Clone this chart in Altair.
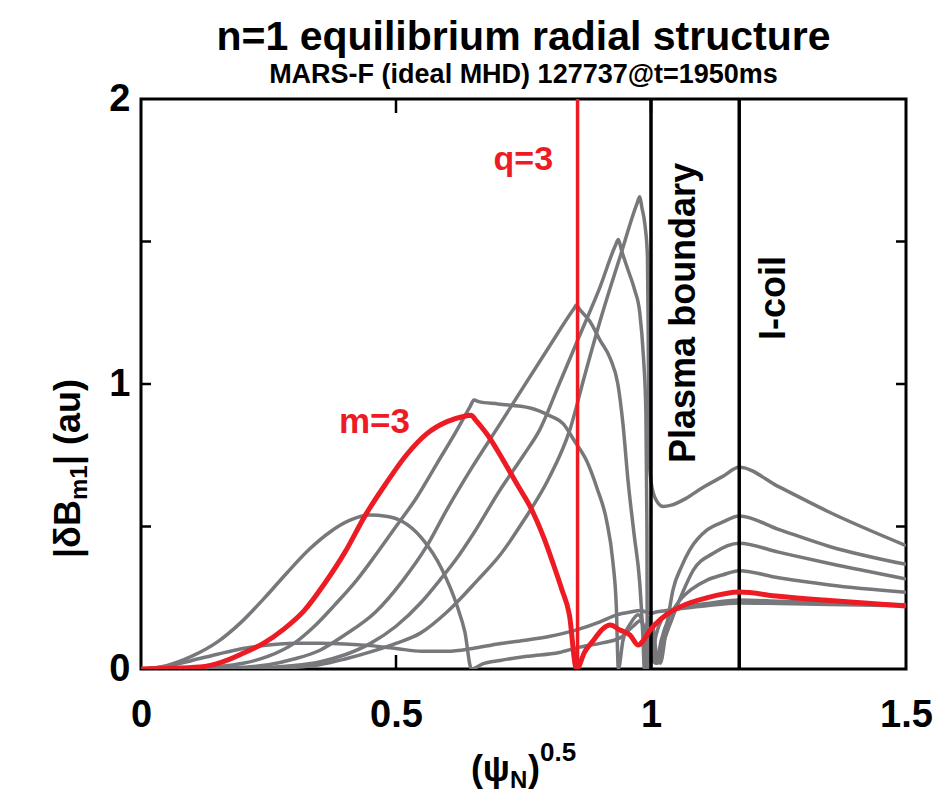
import altair as alt
import pandas as pd

FONT = "Liberation Sans, Arial, Helvetica, sans-serif"
GRAY = "#77787b"
RED = "#ed1c24"

W, H = 765, 570

# |dB_m1| (au) versus sqrt(psi_N) for each poloidal harmonic of the n=1 response
m1_x = [0, 0.05, 0.1, 0.15, 0.2, 0.25, 0.3, 0.35, 0.4, 0.45, 0.5, 0.55, 0.6, 0.65, 0.7, 0.75, 0.8,
        0.856, 0.9, 0.933, 0.96, 0.98, 0.99, 1.0, 1.01, 1.03, 1.06, 1.1, 1.173, 1.25, 1.35, 1.5]
m1_y = [0, 0.01, 0.03, 0.052, 0.072, 0.084, 0.09, 0.09, 0.088, 0.082, 0.072, 0.062, 0.062, 0.072,
        0.088, 0.1, 0.114, 0.138, 0.165, 0.19, 0.2, 0.205, 0.2, 0.195, 0.2, 0.205, 0.212, 0.22,
        0.232, 0.23, 0.226, 0.222]

m2_x = [0, 0.05, 0.1, 0.15, 0.194, 0.24, 0.286, 0.33, 0.37, 0.41, 0.449, 0.48, 0.51, 0.55, 0.59,
        0.62, 0.635, 0.648, 0.67, 0.704, 0.76, 0.82, 0.856, 0.9, 0.94, 0.965, 0.98, 0.99, 1.0,
        1.01, 1.02, 1.031, 1.06, 1.11, 1.173, 1.25, 1.35, 1.5]
m2_y = [0, 0.012, 0.045, 0.095, 0.16, 0.245, 0.337, 0.42, 0.48, 0.522, 0.54, 0.536, 0.52, 0.46,
        0.35, 0.22, 0.13, 0.0, 0.018, 0.03, 0.045, 0.058, 0.075, 0.09, 0.11, 0.15, 0.17, 0.1,
        0.03, 0.12, 0.17, 0.196, 0.215, 0.23, 0.242, 0.238, 0.232, 0.225]

m3_x = [0, 0.05, 0.116, 0.16, 0.2, 0.24, 0.28, 0.32, 0.36, 0.4, 0.44, 0.48, 0.52, 0.56, 0.6,
        0.63, 0.648, 0.655, 0.68, 0.71, 0.74, 0.763, 0.79, 0.808, 0.825, 0.84, 0.854, 0.87,
        0.887, 0.905, 0.92, 0.939, 0.959, 0.975, 0.985, 0.992, 1.0, 1.01, 1.03, 1.057, 1.11,
        1.173, 1.25, 1.35, 1.5]
m3_y = [0, 0.002, 0.007, 0.025, 0.055, 0.09, 0.14, 0.205, 0.3, 0.41, 0.54, 0.65, 0.75, 0.825,
        0.868, 0.885, 0.89, 0.876, 0.82, 0.733, 0.64, 0.57, 0.46, 0.37, 0.28, 0.19, 0.0, 0.06,
        0.10, 0.14, 0.154, 0.137, 0.119, 0.084, 0.1, 0.119, 0.14, 0.16, 0.19, 0.218, 0.25, 0.27,
        0.255, 0.24, 0.221]

m4_x = [0, 0.1, 0.15, 0.2, 0.25, 0.3, 0.34, 0.38, 0.423, 0.46, 0.5, 0.54, 0.58, 0.62, 0.645,
        0.653, 0.662, 0.7, 0.763, 0.8, 0.828, 0.85, 0.874, 0.895, 0.913, 0.925, 0.932, 0.936,
        0.945, 0.96, 0.975, 0.99, 1.0, 1.01, 1.02, 1.035, 1.057, 1.08, 1.11, 1.14, 1.173, 1.25,
        1.35, 1.5]
m4_y = [0, 0.002, 0.008, 0.02, 0.045, 0.09, 0.15, 0.225, 0.312, 0.4, 0.5, 0.6, 0.72, 0.84, 0.92,
        0.944, 0.938, 0.93, 0.916, 0.89, 0.86, 0.8, 0.73, 0.63, 0.52, 0.38, 0.22, 0.0, 0.1, 0.16,
        0.19, 0.12, 0.04, 0.02, 0.1, 0.18, 0.242, 0.28, 0.312, 0.33, 0.345, 0.32, 0.295, 0.269]

m5_x = [0, 0.15, 0.2, 0.25, 0.3, 0.35, 0.4, 0.46, 0.514, 0.56, 0.6, 0.65, 0.704, 0.75, 0.8, 0.848,
        0.854, 0.86, 0.88, 0.9, 0.92, 0.935, 0.945, 0.955, 0.967, 0.978, 0.984, 0.987, 0.99,
        0.996, 1.003, 1.012, 1.022, 1.04, 1.06, 1.083, 1.122, 1.173, 1.25, 1.35, 1.5]
m5_y = [0, 0.002, 0.006, 0.015, 0.035, 0.065, 0.12, 0.2, 0.312, 0.43, 0.56, 0.71, 0.86, 0.99,
        1.13, 1.262, 1.277, 1.262, 1.22, 1.154, 1.09, 1.0, 0.86, 0.66, 0.47, 0.3, 0.12, 0.0,
        0.12, 0.18, 0.08, 0.02, 0.08, 0.17, 0.26, 0.347, 0.406, 0.441, 0.41, 0.37, 0.316]

m6_x = [0, 0.2, 0.25, 0.3, 0.35, 0.4, 0.45, 0.5, 0.55, 0.586, 0.62, 0.65, 0.704, 0.75, 0.782,
        0.82, 0.86, 0.9, 0.93, 0.936, 0.942, 0.955, 0.968, 0.978, 0.985, 0.99, 0.992, 0.993,
        0.997, 1.003, 1.01, 1.018, 1.03, 1.043, 1.06, 1.076, 1.11, 1.14, 1.173, 1.25, 1.35, 1.5]
m6_y = [0, 0.002, 0.005, 0.012, 0.025, 0.05, 0.09, 0.15, 0.235, 0.312, 0.39, 0.47, 0.628, 0.75,
        0.84, 1.0, 1.17, 1.34, 1.485, 1.507, 1.47, 1.4, 1.33, 1.25, 1.1, 0.9, 0.5, 0.0, 0.1, 0.15,
        0.06, 0.02, 0.14, 0.277, 0.36, 0.418, 0.488, 0.515, 0.537, 0.49, 0.43, 0.367]

m7_x = [0, 0.25, 0.3, 0.35, 0.4, 0.45, 0.5, 0.547, 0.6, 0.66, 0.704, 0.75, 0.8, 0.841, 0.87, 0.9,
        0.94, 0.972, 0.978, 0.982, 0.988, 0.993, 0.9945, 0.9955, 0.997, 1.0, 1.008, 1.024, 1.04,
        1.07, 1.1, 1.14, 1.173, 1.25, 1.35, 1.5]
m7_y = [0, 0.002, 0.006, 0.015, 0.035, 0.06, 0.09, 0.125, 0.2, 0.312, 0.4, 0.52, 0.67, 0.84, 1.03,
        1.22, 1.45, 1.63, 1.657, 1.62, 1.56, 1.45, 1.2, 0.9, 0.72, 0.66, 0.6, 0.57, 0.575, 0.6,
        0.635, 0.675, 0.708, 0.64, 0.55, 0.433]

q3_pos = 0.856        # q=3 rational surface
boundary_pos = 1.0    # plasma boundary
coil_pos = 1.173      # I-coil location

x_tick_vals = [0.5, 1.0]
y_tick_vals = [0.5, 1.0, 1.5]


def table(curves):
    rows = []
    for name, xs_, ys_ in curves:
        for i, (a, b) in enumerate(zip(xs_, ys_)):
            rows.append({"mode": name, "idx": i, "r": a, "b": b})
    return pd.DataFrame(rows)


gray_df = table([("m=1", m1_x, m1_y), ("m=2", m2_x, m2_y), ("m=4", m4_x, m4_y),
                 ("m=5", m5_x, m5_y), ("m=6", m6_x, m6_y), ("m=7", m7_x, m7_y)])
red_df = table([("m=3", m3_x, m3_y)])

xs = alt.Scale(domain=[0, 1.5], nice=False, zero=False)
ys = alt.Scale(domain=[0, 2], nice=False, zero=False)

x_axis = alt.Axis(values=[0, 0.5, 1, 1.5], format="~g", title=None, ticks=False, tickSize=0,
                  domain=False, grid=False, labelFont=FONT, labelFontWeight="bold",
                  labelFontSize=38, labelColor="black", labelPadding=27,
                  labelFlush=False, labelOverlap=False, labelBound=False)
y_axis = alt.Axis(values=[0, 1, 2], format="~g", title=None, ticks=False, tickSize=0,
                  domain=False, grid=False, labelFont=FONT, labelFontWeight="bold",
                  labelFontSize=38, labelColor="black", labelPadding=11,
                  labelFlush=False, labelOverlap=False, labelBound=False)

gray = alt.Chart(gray_df).mark_line(color=GRAY, strokeWidth=3.5, strokeJoin="round",
                                    interpolate="monotone", clip=True).encode(
    x=alt.X("r:Q", scale=xs, axis=x_axis),
    y=alt.Y("b:Q", scale=ys, axis=y_axis),
    detail="mode:N",
    order="idx:Q",
)

red = alt.Chart(red_df).mark_line(color=RED, strokeWidth=5, strokeJoin="round",
                                  interpolate="monotone", clip=True).encode(
    x=alt.X("r:Q", scale=xs, axis=x_axis),
    y=alt.Y("b:Q", scale=ys, axis=y_axis),
    order="idx:Q",
)

q3_line = alt.Chart(pd.DataFrame({"v": [q3_pos]})).mark_rule(
    color=RED, strokeWidth=3.5).encode(
    x=alt.X("v:Q", scale=xs, axis=x_axis), y=alt.value(0), y2=alt.value(H))

black_lines = alt.Chart(pd.DataFrame({"v": [boundary_pos, coil_pos]})).mark_rule(
    color="black", strokeWidth=3.5).encode(
    x=alt.X("v:Q", scale=xs, axis=x_axis), y=alt.value(0), y2=alt.value(H))

# inward ticks on all four sides of the frame
xt = pd.DataFrame({"v": x_tick_vals})
yt = pd.DataFrame({"v": y_tick_vals})
tick_bottom = alt.Chart(xt).mark_rule(color="black", strokeWidth=2.5).encode(
    x=alt.X("v:Q", scale=xs, axis=x_axis), y=alt.value(H), y2=alt.value(H - 14))
tick_top = alt.Chart(xt).mark_rule(color="black", strokeWidth=2.5).encode(
    x=alt.X("v:Q", scale=xs, axis=x_axis), y=alt.value(0), y2=alt.value(14))
tick_left = alt.Chart(yt).mark_rule(color="black", strokeWidth=2.5).encode(
    y=alt.Y("v:Q", scale=ys, axis=y_axis), x=alt.value(0), x2=alt.value(10))
tick_right = alt.Chart(yt).mark_rule(color="black", strokeWidth=2.5).encode(
    y=alt.Y("v:Q", scale=ys, axis=y_axis), x=alt.value(W - 10), x2=alt.value(W))


def data_label(text, x, y, color, size=36, align="left", angle=0):
    df = pd.DataFrame({"t": [text], "x": [x], "y": [y]})
    kw = dict(font=FONT, fontWeight="bold", fontSize=size, color=color, align=align,
              baseline="alphabetic")
    if angle:
        kw["angle"] = angle
    return alt.Chart(df).mark_text(**kw).encode(
        x=alt.X("x:Q", scale=xs, axis=x_axis),
        y=alt.Y("y:Q", scale=ys, axis=y_axis),
        text="t:N")


def free_text(text, px, py, size, align="left", angle=0, color="black"):
    df = pd.DataFrame({"t": [text]})
    kw = dict(font=FONT, fontWeight="bold", fontSize=size, color=color, align=align,
              baseline="alphabetic")
    if angle:
        kw["angle"] = angle
    return alt.Chart(df).mark_text(**kw).encode(
        x=alt.value(px), y=alt.value(py), text="t:N")


labels = [
    data_label("q=3", 0.808, 1.75, RED, size=34, align="right"),
    data_label("m=3", 0.388, 0.828, RED, size=35),
    data_label("Plasma boundary", 1.086, 0.723, "black", size=36, angle=270),
    data_label("I-coil", 1.263, 1.154, "black", size=36, angle=270),
]

titles = [
    free_text("n=1 equilibrium radial structure", W / 2, -49, 41, align="center"),
    free_text("MARS-F (ideal MHD) 127737@t=1950ms", W / 2, -16, 27, align="center"),
    # x-axis title: (psi_N)^0.5
    free_text("(ψ", 369, 682, 36, align="right"),
    free_text("N", 369, 689, 24),
    free_text(")", 387, 682, 36),
    free_text("0.5", 399, 662, 26),
    # y-axis title: |dB_m1| (au), reading upward
    free_text("|δB", -61, 459, 36, angle=270),
    free_text("m1", -54, 401, 24, angle=270),
    free_text("| (au)", -61, 366, 36, angle=270),
]

chart = alt.layer(
    gray, q3_line, black_lines, red,
    tick_bottom, tick_top, tick_left, tick_right,
    *labels, *titles,
).properties(
    width=W, height=H,
    padding={"left": 141, "top": 99, "right": 30, "bottom": 124},
    autosize=alt.AutoSizeParams(type="none"),
).configure_view(stroke="black", strokeWidth=3).configure_axis(grid=False)

chart.save("out.html", embed_options={"renderer": "svg", "actions": False})
